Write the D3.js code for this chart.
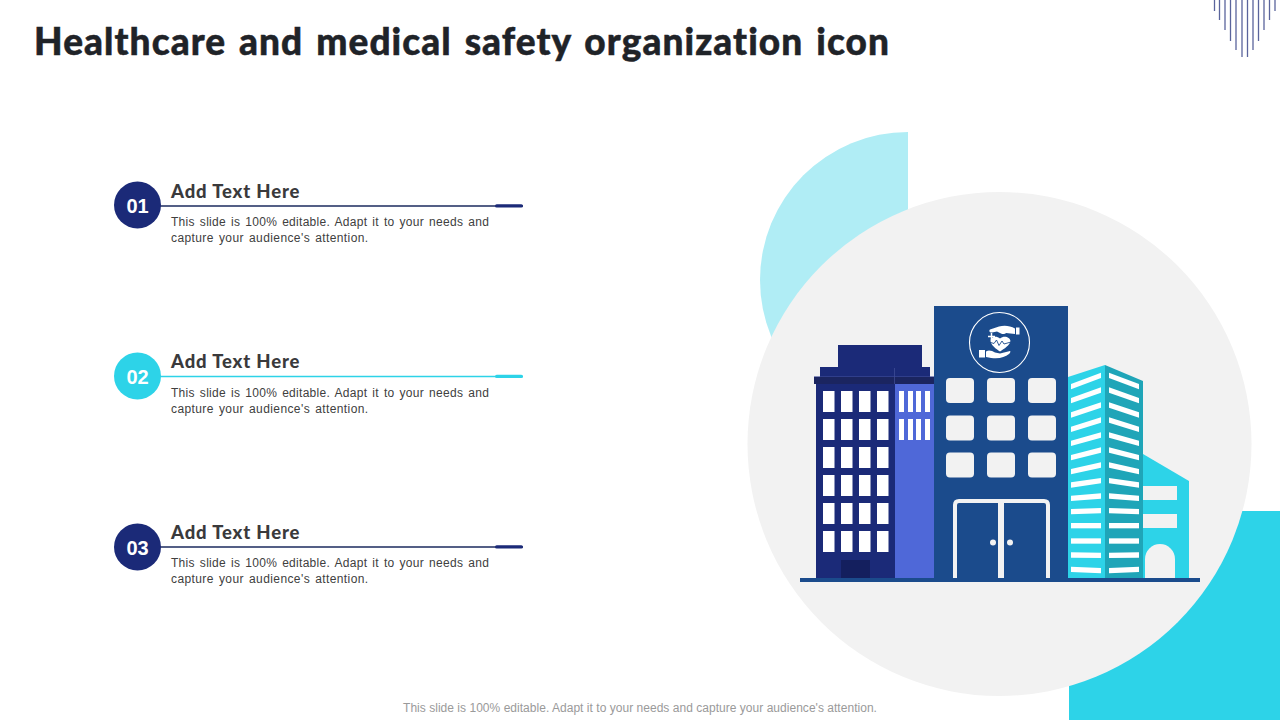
<!DOCTYPE html>
<html><head><meta charset="utf-8">
<script src="https://cdn.jsdelivr.net/npm/d3@7"></script>
<style>html,body{margin:0;padding:0;background:#fff}svg{display:block}</style>
</head><body><svg id="c" width="1280" height="720"></svg>
<script>
const titleText = "Healthcare and medical safety organization icon";
const footerText = "This slide is 100% editable. Adapt it to your needs and capture your audience's attention.";
const itemNumbers = ["01","02","03"];
const itemTitles = ["Add Text Here","Add Text Here","Add Text Here"];
const itemLine1 = ["This slide is 100% editable. Adapt it to your needs and","This slide is 100% editable. Adapt it to your needs and","This slide is 100% editable. Adapt it to your needs and"];
const itemLine2 = ["capture your audience's attention.","capture your audience's attention.","capture your audience's attention."];
const itemColors = ["#1b2a78","#2dd3e8","#1b2a78"];
const itemLineColors = ["#1b2a5e","#2dd3e8","#1b2a5e"];
const itemY = [205,376,547];
const itemTitleY = [198,367.5,538.5];
const itemBodyY = [226,397,567];
const NAVY="#1b4b8c", DARK="#1b2a78", PERI="#4f68d8", TEAL="#2dd3e8", TEAL2="#1fa5b8", GREY="#f2f2f2";
const stripeLeftEnds=[80,122,165,208,250,293,335,375,415,455,497,543,585,628];
const stripeRightEnds=[46,90,135,180,225,270,315,362,408,452,497,543,586,632];
const pinLengths=[11,20,30,41,50,57,57,50,41,30,20,11];
const pinX=[1214.5,1219.5,1225,1230.5,1236,1242,1247.5,1253,1258.5,1264,1269.5,1275];

const svg=d3.select("#c");
const rect=(g,x0,y0,x1,y1,f,r)=>g.append("rect").attr("x",x0).attr("y",y0).attr("width",x1-x0).attr("height",y1-y0).attr("fill",f).attr("rx",r||0);
const poly=(g,p,f)=>g.append("polygon").attr("points",p.map(d=>d.join(",")).join(" ")).attr("fill",f);

// title
svg.append("text").attr("x",34).attr("y",55).attr("font-family","Lato").attr("font-weight",900)
  .attr("font-size",37).attr("letter-spacing",1.08).attr("word-spacing",3).attr("fill","#1f2328")
  .attr("stroke","#1f2328").attr("stroke-width",0.5).text(titleText);

// corner pins
svg.append("g").selectAll("line").data(pinX).join("line")
  .attr("x1",d=>d).attr("x2",d=>d).attr("y1",0).attr("y2",(d,i)=>pinLengths[i])
  .attr("stroke","#5a649c").attr("stroke-width",1.3);

// backgrounds
const defs=svg.append("defs");
defs.append("clipPath").attr("id","half").append("rect").attr("x",700).attr("y",100).attr("width",208).attr("height",400);
svg.append("circle").attr("cx",908).attr("cy",280).attr("r",148).attr("fill","#b0edf5").attr("clip-path","url(#half)");
rect(svg,1069,511,1280,720,TEAL);
svg.append("circle").attr("cx",999.5).attr("cy",444).attr("r",252).attr("fill",GREY);

// list items
itemY.forEach((y,i)=>{
  const g=svg.append("g");
  const ly=[206,376.5,547][i];
  g.append("line").attr("x1",160).attr("x2",523).attr("y1",ly).attr("y2",ly).attr("stroke",itemLineColors[i]).attr("stroke-width",1.3);
  rect(g,495,ly-1.8,523,ly+1.6,itemColors[i],1.7);
  g.append("circle").attr("cx",137.5).attr("cy",y).attr("r",23.5).attr("fill",itemColors[i]);
  g.append("text").attr("x",137.5).attr("y",y+7.5).attr("text-anchor","middle").attr("font-family","Liberation Sans").attr("font-weight",700).attr("font-size",20).attr("fill","#fff").text(itemNumbers[i]);
  g.append("text").attr("x",171).attr("y",itemTitleY[i]).attr("font-family","Lato").attr("font-weight",900).attr("font-size",18.5).attr("letter-spacing",0.85).attr("fill","#3a3a3c").text(itemTitles[i]);
  g.append("text").attr("x",171).attr("y",itemBodyY[i]).attr("font-family","Liberation Sans").attr("font-size",12).attr("letter-spacing",0.29).attr("word-spacing",1.4).attr("fill","#404040").text(itemLine1[i]);
  g.append("text").attr("x",171).attr("y",itemBodyY[i]+16).attr("font-family","Liberation Sans").attr("font-size",12).attr("letter-spacing",0.4).attr("word-spacing",1.4).attr("fill","#404040").text(itemLine2[i]);
});

// footer
svg.append("text").attr("x",640).attr("y",712).attr("text-anchor","middle").attr("font-family","Liberation Sans").attr("font-size",12).attr("letter-spacing",0.03).attr("fill","#9a9a9a").text(footerText);

// left building
const b=svg.append("g");
rect(b,838,345,922,367,DARK);
rect(b,820,367,930,377,DARK);
rect(b,814,377,934,384,"#1b2560");
rect(b,816,384,895,578,DARK);
rect(b,895,384,934,578,PERI);
b.append("line").attr("x1",894.5).attr("x2",894.5).attr("y1",368).attr("y2",384).attr("stroke","#4a56a0").attr("stroke-width",.6);
b.append("line").attr("x1",814).attr("x2",934).attr("y1",376.5).attr("y2",376.5).attr("stroke","#3f4b98").attr("stroke-width",.6);
const rowY=[391,419,447,475,503,531], colX=[823,841,859,877], sideX=[899,908,916,925];
rowY.forEach(y=>colX.forEach(x=>rect(b,x,y,x+11.5,y+21,"#fff")));
rowY.slice(0,2).forEach(y=>sideX.forEach(x=>rect(b,x,y,x+5,y+21,"#fff")));
rect(b,841,560,870,578,"#141f5e");

// centre building
rect(b,934,306,1068,578,NAVY);
[946,987,1028].forEach(x=>[378,415.5,452.5].forEach(y=>rect(b,x,y,x+28,y+25,GREY,4)));
b.append("path").attr("d","M955,578V505Q955,501 959,501H1044Q1048,501 1048,505V578").attr("fill","none").attr("stroke",GREY).attr("stroke-width",4);
rect(b,998,501,1004,578,GREY);
[993,1010].forEach(x=>b.append("circle").attr("cx",x).attr("cy",542.5).attr("r",3).attr("fill",GREY));

// emblem
const e=b.append("g");
e.append("circle").attr("cx",999.5).attr("cy",342.5).attr("r",30).attr("fill","none").attr("stroke","#fff").attr("stroke-width",1.1);
// upper hand
rect(e,1016,327.5,1019.5,334.5,"#fff");
e.append("path").attr("d","M1015,328.5C1010,325.5 1004,325 999,326.5L990,329.5C988.5,331 990,333 992,332.5L997,331.5L1001,333.5C1003,334.5 1005,334 1006,333L1015,334Z").attr("fill","#fff");
// lower hand
rect(e,979,350,985,357.5,"#fff");
e.append("path").attr("d","M986,351.5C989,349.5 992,351 995,352.5L1000,353.5L1010,351C1011,351.5 1010,353 1009,354C1004,358 997,359.5 986,357Z").attr("fill","#fff");
// heart
e.append("path").attr("d","M1000,351.5C996,349 991,345 990.5,341C990.5,337 996,335 1000,338.5C1004,335 1010,337 1010.5,341C1010,345 1004,349 1000,351.5Z").attr("fill","#fff");
e.append("path").attr("d","M989,342L994,343.5L996.5,340L999,345.5L1002,341L1004,344L1011,342").attr("fill","none").attr("stroke",NAVY).attr("stroke-width",.9);
e.append("path").attr("d","M991.5,333V340M988,336.5H995").attr("stroke","#fff").attr("stroke-width",1.5);

// low teal building
poly(b,[[1143,454],[1189,481],[1189,578],[1143,578]],TEAL);
rect(b,1143,486,1177,500,GREY);
rect(b,1143,514,1177,528,GREY);
b.append("path").attr("d","M1145,578V559A15,15 0 0 1 1175,559V578Z").attr("fill",GREY);

// tower
poly(b,[[1068,377],[1105,365],[1105,578],[1068,578]],TEAL);
poly(b,[[1105,365],[1143,381],[1143,578],[1105,578]],TEAL2);
const zy=d3.scaleLinear().domain([0,675]).range([360,585]);
stripeLeftEnds.forEach((l,i)=>{
  const r=stripeRightEnds[i];
  poly(b,[[1071,zy(l-8)],[1101,zy(r-8)],[1101,zy(r+8)],[1071,zy(l+8)]],"#fff");
  poly(b,[[1109,zy(r-8)],[1139,zy(l-8)],[1139,zy(l+8)],[1109,zy(r+8)]],"#fff");
});
// ground
rect(b,800,578,1200,582,NAVY);
</script></body></html>
